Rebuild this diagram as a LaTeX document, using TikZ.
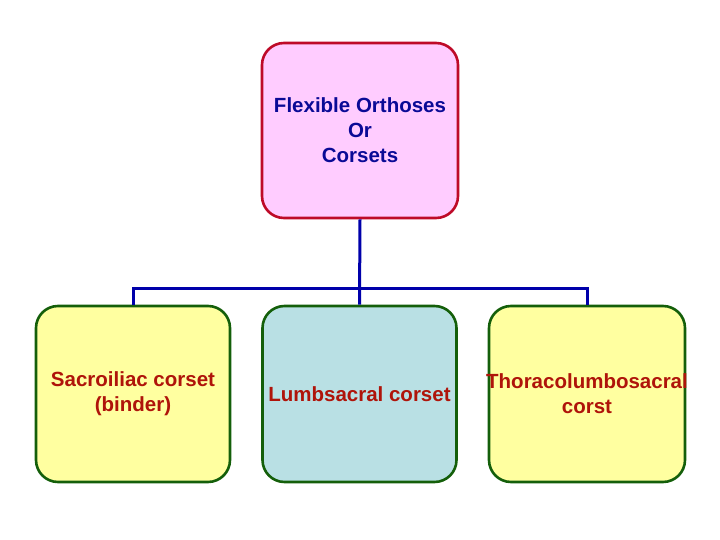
\documentclass[tikz,border=0pt]{standalone}
\usepackage{fontspec}
\setmainfont{Liberation Sans}
\definecolor{topfill}{RGB}{255,204,255}
\definecolor{topdraw}{RGB}{190,10,40}
\definecolor{topText}{RGB}{10,10,150}
\definecolor{yel}{RGB}{255,255,160}
\definecolor{blu}{RGB}{185,224,228}
\definecolor{grn}{RGB}{20,95,10}
\definecolor{redText}{RGB}{175,20,10}
\definecolor{link}{RGB}{0,0,170}
\begin{document}
\begin{tikzpicture}[x=1pt,y=-1pt,
  box/.style={rounded corners=22pt, line width=2.6pt, align=center,
    font=\fontsize{20.5}{25}\selectfont\bfseries, inner sep=0pt},
  topbox/.style={box, draw=topdraw, fill=topfill, text=topText, minimum width=196pt, minimum height=175pt},
  lowbox/.style={box, draw=grn, text=redText, minimum width=194pt, minimum height=176pt},
  conn/.style={draw=link, line width=3pt}]
\useasboundingbox (0,0) rectangle (720,540);
\coordinate (bar) at (360,288);
\node[topbox] (top) at (360,130.5) {Flexible Orthoses\\Or\\Corsets};
\node[lowbox, fill=yel] (left) at (133,394) {Sacroiliac corset\\(binder)};
\node[lowbox, fill=blu] (mid) at (359.5,394) {Lumbsacral corset};
\node[lowbox, fill=yel, minimum width=196pt] (right) at (587,394) {\makebox[180pt]{Thoracolumbosacral}\\corst};
\begin{scope}[on background layer/.try]
\end{scope}
\draw[conn] (top.south) -- (mid.north);
\draw[conn] (left.north) |- (bar) -| (right.north);
\end{tikzpicture}
\end{document}
